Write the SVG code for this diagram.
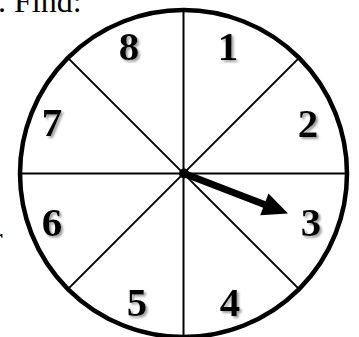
<svg xmlns="http://www.w3.org/2000/svg" width="359" height="337" viewBox="0 0 359 337">
<defs>
<filter id="sh" x="-30%" y="-30%" width="160%" height="160%">
<feDropShadow dx="2" dy="2" stdDeviation="1" flood-color="#888" flood-opacity="0.8"/>
</filter>
</defs>
<style>
.num{font-family:"Liberation Serif",serif;font-weight:bold;font-size:41px;text-anchor:middle;fill:#000;filter:url(#sh)}
.txt{font-family:"Liberation Serif",serif;font-size:32px;fill:#000}
.div{stroke:#000;stroke-width:2;fill:none}
</style>
<rect width="359" height="337" fill="#fff"/>
<text class="txt" x="-2" y="12">. Find:</text>
<text class="txt" x="-8" y="249">r</text>
<g id="wheel">
<circle cx="183.5" cy="173.5" r="163.5" fill="none" stroke="#000" stroke-width="4.5"/>
</g>
<g id="connectors">
<line class="div" x1="183.5" y1="10" x2="183.5" y2="337"/>
<line class="div" x1="20" y1="173.5" x2="347" y2="173.5"/>
<line class="div" x1="67.9" y1="57.9" x2="299.1" y2="289.1"/>
<line class="div" x1="67.9" y1="289.1" x2="299.1" y2="57.9"/>
</g>
<g id="pointer">
<circle cx="184" cy="173.5" r="5" fill="#000"/>
<line x1="184" y1="173.5" x2="267" y2="205.5" stroke="#000" stroke-width="7"/>
<polygon points="288,213.5 268.5,193.5 260.2,215.2" fill="#000"/>
</g>
<g id="n8"><text class="num" x="129" y="60">8</text></g>
<g id="n1"><text class="num" x="228" y="60">1</text></g>
<g id="n7"><text class="num" x="52" y="136">7</text></g>
<g id="n2"><text class="num" x="308" y="137">2</text></g>
<g id="n6"><text class="num" x="52" y="236">6</text></g>
<g id="n3"><text class="num" x="311" y="236">3</text></g>
<g id="n5"><text class="num" x="137" y="316">5</text></g>
<g id="n4"><text class="num" x="230" y="316">4</text></g>
</svg>
